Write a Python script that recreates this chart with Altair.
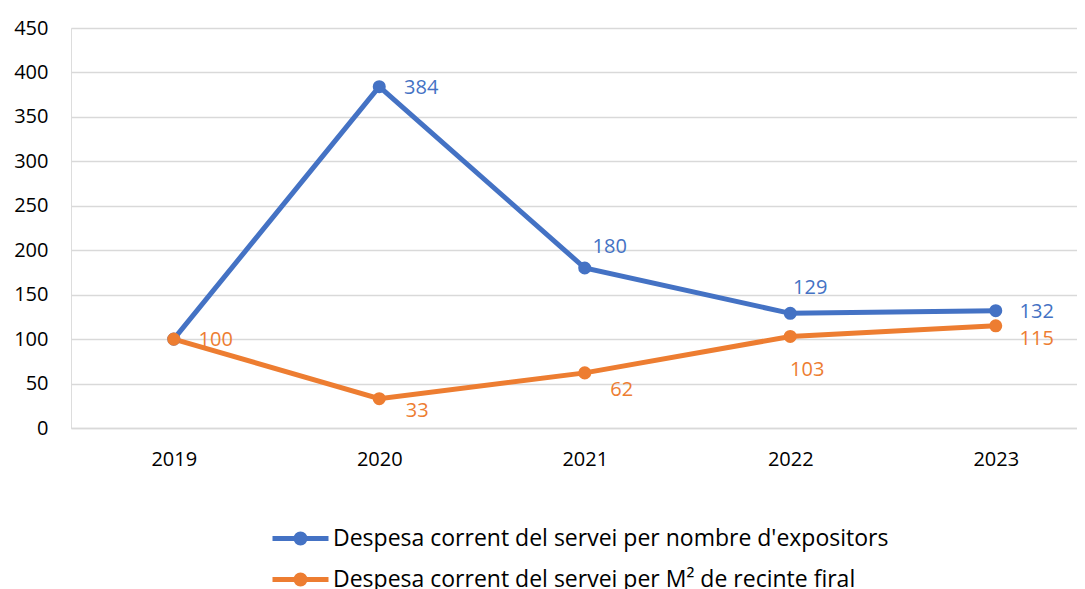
import altair as alt
import pandas as pd

years = [2019, 2020, 2021, 2022, 2023]
series_names = [
    "Despesa corrent del servei per nombre d'expositors",
    "Despesa corrent del servei per M² de recinte firal",
]
blue_values = [100, 384, 180, 129, 132]
orange_values = [100, 33, 62, 103, 115]
colors = ["#4472C4", "#ED7D31"]

rows = []
for y, v in zip(years, blue_values):
    rows.append({"year": y, "series": series_names[0], "value": v})
for y, v in zip(years, orange_values):
    rows.append({"year": y, "series": series_names[1], "value": v})
df = pd.DataFrame(rows)

FONT = "Open Sans"
GRID = "#d9d9d9"
PLOT_W = 1006
STEP = 205.5

x_enc = alt.X(
    "year:Q",
    scale=alt.Scale(domain=[2018.5, 2018.5 + PLOT_W / STEP], nice=False, zero=False),
    axis=alt.Axis(
        values=years, format="d", title=None, grid=False, ticks=False,
        domainColor=GRID, domainWidth=1.5, labelPadding=21,
        labelFont=FONT, labelFontSize=20, labelColor="#000000",
    ),
)
y_enc = alt.Y(
    "value:Q",
    scale=alt.Scale(domain=[0, 450], nice=False),
    axis=alt.Axis(
        values=list(range(0, 451, 50)), title=None, domain=False, ticks=False,
        gridColor=GRID, gridWidth=1.5, labelPadding=23,
        labelFont=FONT, labelFontSize=20, labelColor="#000000",
    ),
)

legend_symbol = "M-2,0L2,0M-0.32,0A0.32,0.32,0,1,1,0.32,0A0.32,0.32,0,1,1,-0.32,0Z"

color_enc = alt.Color(
    "series:N",
    scale=alt.Scale(domain=series_names, range=colors),
    legend=alt.Legend(
        title=None, orient="none", legendX=213, legendY=494, direction="vertical",
        symbolType=legend_symbol, symbolSize=784, symbolStrokeWidth=5,
        labelFont=FONT, labelFontSize=23, labelColor="#000000", labelOffset=16,
        labelLimit=800, rowPadding=10,
    ),
)

base = alt.Chart(df)

lines = base.mark_line(strokeWidth=5).encode(x=x_enc, y=y_enc, color=color_enc)
points = base.mark_point(filled=True, size=170, opacity=1).encode(
    x=x_enc, y=y_enc, color=alt.Color("series:N", scale=alt.Scale(domain=series_names, range=colors), legend=None)
)

# label offsets (dx, dy) for each series / year
LABEL_OFFSETS = {
    series_names[0]: [(42, 1), (42, 1), (25, -21), (20, -25), (41, 1)],
    series_names[1]: [(42, 1), (38, 12), (37, 17), (17, 34), (41, 13)],
}

label_layers = []
for si, s in enumerate(series_names):
    for yi, yr in enumerate(years):
        if si == 0 and yi == 0:
            continue
        dx, dy = LABEL_OFFSETS[s][yi]
        label_layers.append(
            base.transform_filter(
                (alt.datum.series == s) & (alt.datum.year == yr)
            ).mark_text(
                dx=dx, dy=dy, font=FONT, fontSize=20, color=colors[si],
                align="center", baseline="middle",
            ).encode(x=x_enc, y=y_enc, text="value:Q")
        )

chart = alt.layer(lines, points, *label_layers).properties(
    width=PLOT_W, height=400,
    autosize=alt.AutoSizeParams(type="none"),
    padding={"left": 63, "top": 20, "right": 0, "bottom": 162},
).configure_view(stroke=None).configure(background="#ffffff")

chart.save("out.html", embed_options={"renderer": "svg", "actions": False})
